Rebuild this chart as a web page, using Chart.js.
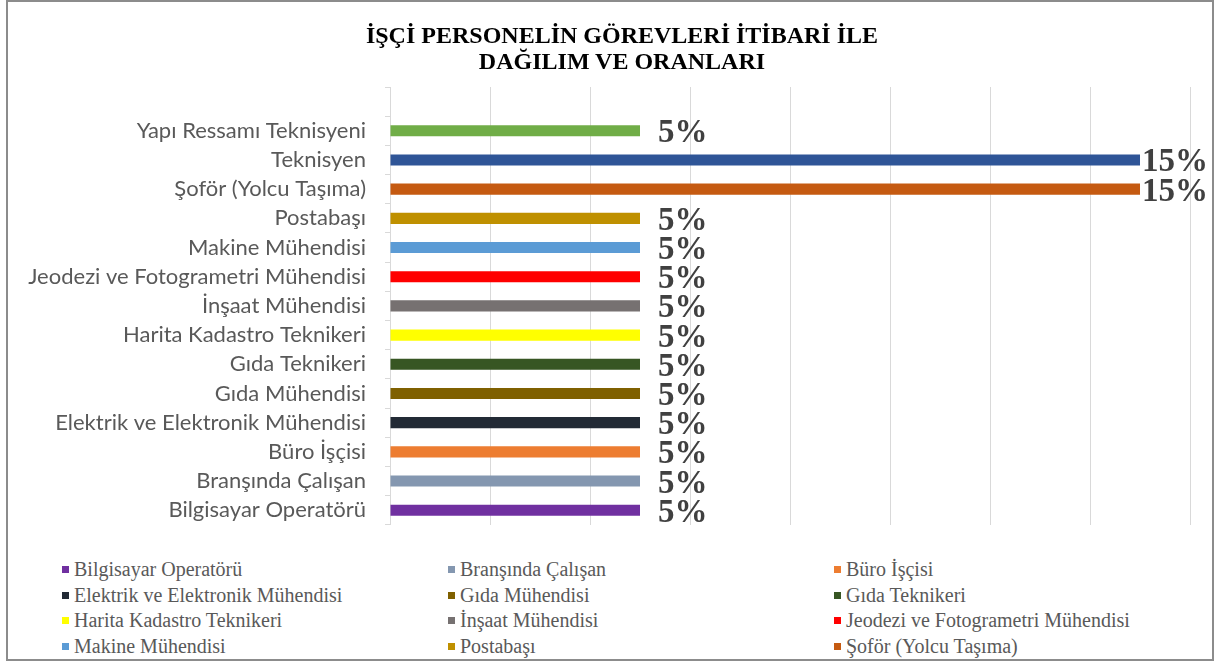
<!DOCTYPE html>
<html lang="tr">
<head>
<meta charset="UTF-8">
<title>İşçi Personelin Görevleri</title>
<script src="https://cdn.jsdelivr.net/npm/chart.js"></script>
<style>
  body { margin: 0; background: #fff; width: 1217px; height: 664px; position: relative; overflow: hidden; }
  #frame { position: absolute; left: 6px; top: 0; width: 1208px; height: 661px; border: 2px solid #8c8c8c; box-sizing: border-box; pointer-events: none; }
  #title { position: absolute; left: 322px; width: 600px; top: 22px; text-align: center; line-height: 26px;
           font-family: "Liberation Serif", serif; font-weight: bold; font-size: 24px; color: #000; }
  #wrap { position: absolute; left: 0; top: 0; width: 1217px; height: 557px; }
  #legend { position: absolute; left: 62px; top: 558px; display: grid; grid-template-columns: 386px 386px 386px; grid-auto-rows: 25.5px;
            font-family: "Liberation Serif", serif; font-size: 20px; color: #595959; }
  #legend span.box { display: inline-block; width: 7px; height: 7px; margin-right: 5px; vertical-align: 3px; }
</style>
</head>
<body>
<div id="wrap"><canvas id="chart"></canvas></div>
<div id="title"></div>
<div id="legend"></div>
<div id="frame"></div>
<script>
// bottom to top, last one is the empty slot above the top bar
const categories = ["Bilgisayar Operatörü", "Branşında Çalışan", "Büro İşçisi", "Elektrik ve Elektronik Mühendisi",
  "Gıda Mühendisi", "Gıda Teknikeri", "Harita Kadastro Teknikeri", "İnşaat Mühendisi",
  "Jeodezi ve Fotogrametri Mühendisi", "Makine Mühendisi", "Postabaşı", "Şoför (Yolcu Taşıma)",
  "Teknisyen", "Yapı Ressamı Teknisyeni", ""];
const shares = [5, 5, 5, 5, 5, 5, 5, 5, 5, 5, 5, 15, 15, 5, null];
const colors = ["#7030A0", "#8497B0", "#ED7D31", "#222A35", "#7F6000", "#375623", "#FFFF00", "#767171",
  "#FF0000", "#5B9BD5", "#BF9000", "#C55A11", "#2F5597", "#70AD47", "#ffffff"];
const titleLines = ["İŞÇİ PERSONELİN GÖREVLERİ İTİBARİ İLE", "DAĞILIM VE ORANLARI"];
const legendCount = 12; // the legend in the original is cut after 12 entries

const valueLabels = {
  id: "valueLabels",
  afterDatasetsDraw(chart) {
    const ctx = chart.ctx;
    const meta = chart.getDatasetMeta(0);
    ctx.save();
    ctx.font = "bold 33px 'Liberation Serif', serif";
    ctx.fillStyle = "#404040";
    ctx.textBaseline = "middle";
    meta.data.forEach((bar, i) => {
      if (shares[i] == null) return;
      const txt = shares[i] + "%";
      const w = ctx.measureText(txt).width;
      const x = Math.min(bar.x + 18, chart.width - 9 - w);
      ctx.fillText(txt, x, bar.y + 3);
    });
    ctx.restore();
  }
};

new Chart(document.getElementById("chart"), {
  type: "bar",
  data: {
    labels: categories,
    datasets: [{
      data: shares,
      backgroundColor: colors,
      categoryPercentage: 1,
      barPercentage: 0.38
    }]
  },
  options: {
    indexAxis: "y",
    responsive: true,
    maintainAspectRatio: false,
    animation: false,
    layout: { padding: { left: 0, right: 27, top: 87, bottom: 13 } },
    plugins: {
      legend: { display: false },
      tooltip: { enabled: false },
      title: { display: false }
    },
    scales: {
      x: {
        min: 0, max: 16,
        ticks: { display: false, stepSize: 2 },
        grid: { color: "#d9d9d9", drawTicks: false },
        border: { display: false }
      },
      y: {
        reverse: true,
        afterFit(scale) { scale.width = 390; },
        ticks: { color: "#595959", padding: 19, font: { family: "Lato, sans-serif", size: 22 } },
        grid: { offset: true, drawOnChartArea: false, tickLength: 5, color: "#d9d9d9" },
        border: { color: "#d9d9d9" }
      }
    }
  },
  plugins: [valueLabels]
});

const title = document.getElementById("title");
titleLines.forEach(line => {
  const d = document.createElement("div");
  d.textContent = line;
  title.appendChild(d);
});

const legend = document.getElementById("legend");
categories.slice(0, legendCount).forEach((name, i) => {
  const item = document.createElement("div");
  const box = document.createElement("span");
  box.className = "box";
  box.style.background = colors[i];
  item.appendChild(box);
  item.appendChild(document.createTextNode(name));
  legend.appendChild(item);
});
</script>
</body>
</html>
